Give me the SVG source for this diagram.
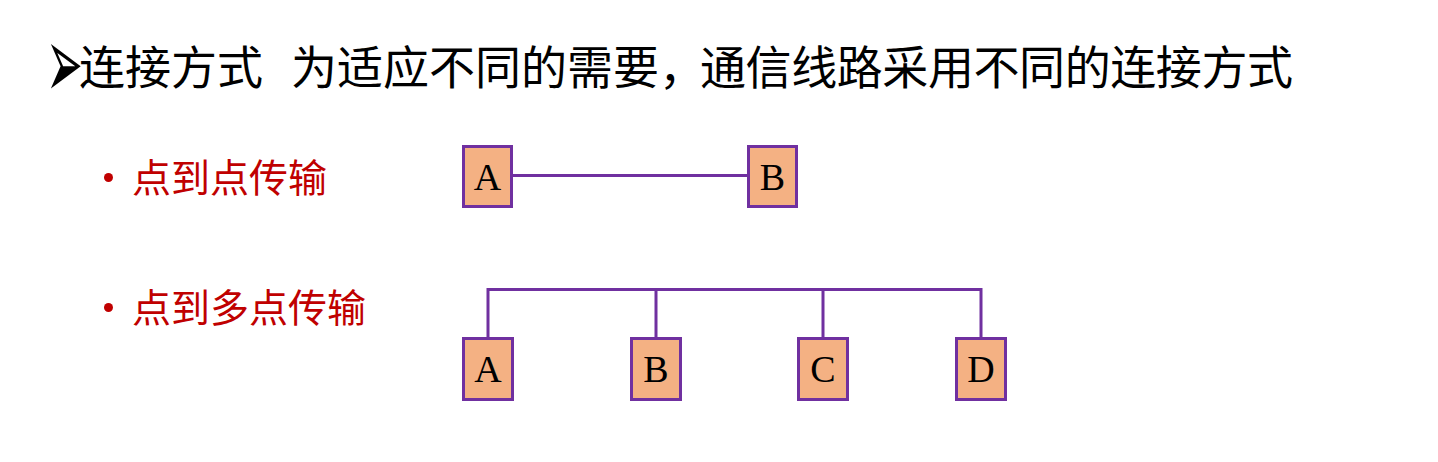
<svg xmlns="http://www.w3.org/2000/svg" width="1438" height="462" viewBox="0 0 1438 462">
<style>
.title{font-family:"Noto Sans CJK SC","Liberation Sans",sans-serif;font-size:46px;fill:#000}
.item{font-family:"Noto Sans CJK SC","Liberation Sans",sans-serif;font-size:39px;fill:#C00000}
.box{fill:#F4B183;stroke:#7030A0;stroke-width:3}
.lbl{font-family:"Liberation Serif","Times New Roman",serif;font-size:38px;fill:#000;text-anchor:middle}
.wire{fill:none;stroke:#7030A0;stroke-width:3}
</style>
<rect width="1438" height="462" fill="#fff"/>
<g id="title">
<text transform="translate(46,98) scale(1,2.3)" x="0" y="0" style="font-family:'DejaVu Sans',sans-serif;font-size:44px;fill:#000">➢</text>
<text class="title" x="79" y="84">连接方式</text>
<text class="title" x="291" y="84">为适应不同的需要，</text>
<text class="title" x="700" y="84" textLength="593" lengthAdjust="spacing">通信线路采用不同的连接方式</text>
</g>
<g id="bullet1">
<circle cx="108.5" cy="177.5" r="4.5" fill="#C00000"/>
<text class="item" x="132" y="192">点到点传输</text>
</g>
<g id="bullet2">
<circle cx="108.5" cy="307.5" r="4.5" fill="#C00000"/>
<text class="item" x="132" y="322">点到多点传输</text>
</g>
<g id="connectors">
<line class="wire" x1="513" y1="175.5" x2="748" y2="175.5"/>
<path class="wire" d="M488 338 V289.5 H981 V338 M656 289.5 V338 M823 289.5 V338"/>
</g>
<g id="p2p-A"><rect class="box" x="463.5" y="146.5" width="48" height="60"/><text class="lbl" x="487.5" y="190">A</text></g>
<g id="p2p-B"><rect class="box" x="748.5" y="146.5" width="48" height="60"/><text class="lbl" x="772.5" y="190">B</text></g>
<g id="mp-A"><rect class="box" x="463.5" y="338.5" width="49" height="61"/><text class="lbl" x="488" y="382">A</text></g>
<g id="mp-B"><rect class="box" x="631.5" y="338.5" width="49" height="61"/><text class="lbl" x="656" y="382">B</text></g>
<g id="mp-C"><rect class="box" x="798.5" y="338.5" width="49" height="61"/><text class="lbl" x="823" y="382">C</text></g>
<g id="mp-D"><rect class="box" x="956.5" y="338.5" width="49" height="61"/><text class="lbl" x="981" y="382">D</text></g>
</svg>
